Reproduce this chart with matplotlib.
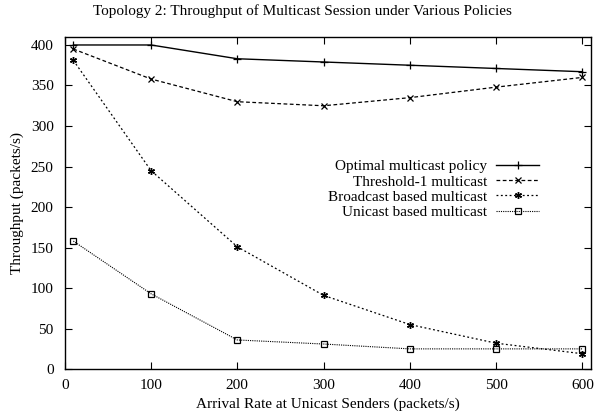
import matplotlib
matplotlib.use('Agg')
import matplotlib.pyplot as plt

plt.rcParams['font.family'] = ['Liberation Serif', 'DejaVu Serif']

rates = [10, 100, 200, 300, 400, 500, 600]
optimal = [400, 400, 383, 379, 375, 371, 367]
threshold1 = [395, 358, 330, 325, 335, 348, 360]
broadcast = [381, 245, 151, 91, 55, 32, 19]
unicast = [158, 93, 36, 31, 25, 25, 25]

fig = plt.figure(figsize=(6.05, 4.19), dpi=100)
ax = fig.add_axes([0.107, 0.119, 0.870, 0.793])

ax.plot(rates, optimal, color='black', lw=1.0, ls='-', marker='+', ms=6, mew=0.9,
        label='Optimal multicast policy')
ax.plot(rates, threshold1, color='black', lw=0.9, ls=(0, (3, 2)), marker='x', ms=4, mew=0.9,
        label='Threshold-1 multicast')
ax.plot(rates, broadcast, color='black', lw=0.9, ls=(0, (1.5, 2)), marker=(6, 2, 0), ms=5, mew=1.0,
        label='Broadcast based multicast')
ax.plot(rates, unicast, color='black', lw=0.8, ls=(0, (1, 1)), marker='s', ms=4, mew=0.9,
        mfc='none', label='Unicast based multicast')

ax.set_xlim(0, 610)
ax.set_ylim(0, 410)
ax.set_xticks([0, 100, 200, 300, 400, 500, 600])
ax.set_yticks([0, 50, 100, 150, 200, 250, 300, 350, 400])
ax.tick_params(direction='in', top=True, right=True, labelsize=11, length=5)
ax.tick_params(axis='x', pad=7)
ax.tick_params(axis='y', pad=8)
for s in ax.spines.values():
    s.set_linewidth(1.0)

ax.set_xlabel('Arrival Rate at Unicast Senders (packets/s)', fontsize=11, labelpad=4)
ax.set_ylabel('Throughput (packets/s)', fontsize=11, labelpad=5)
fig.suptitle('Topology 2: Throughput of Multicast Session under Various Policies',
             fontsize=11, y=0.99)

ax.legend(loc='center right', bbox_to_anchor=(0.901, 0.541), frameon=False, markerfirst=False,
          fontsize=11, handlelength=2.8, handletextpad=0.6, labelspacing=0.1,
          borderpad=0, borderaxespad=0)

fig.savefig('out.png', dpi=100)
